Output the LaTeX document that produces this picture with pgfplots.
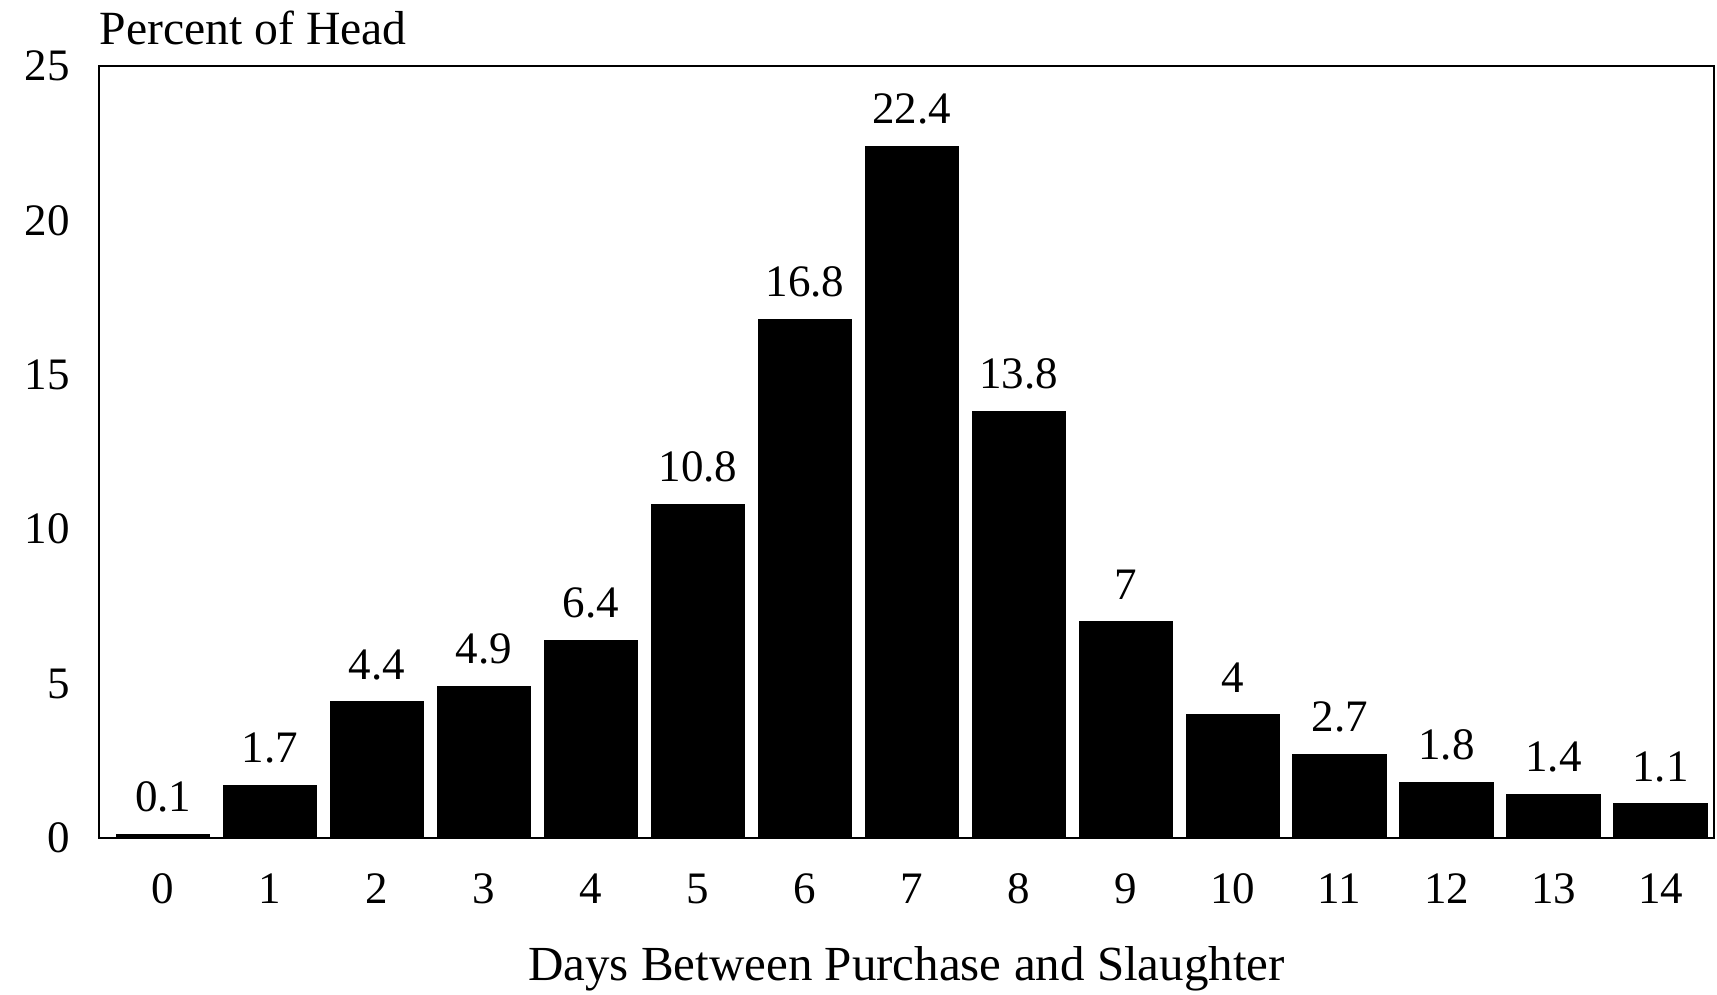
\documentclass[border=0pt]{standalone}
\usepackage{fontspec}
\setmainfont{Liberation Serif}
\usepackage{pgfplots}
\pgfplotsset{compat=1.18}
\begin{document}
\fontsize{13.5}{16}\selectfont
\begin{tikzpicture}
\begin{axis}[
  at={(0,0)}, anchor=south west,
  scale only axis,
  width=484.5pt, height=231.6pt,
  xmin=-0.6, xmax=14.5, ymin=0, ymax=25,
  xtick={0,...,14}, ytick={0,5,...,25},
  major tick length=0pt,
  axis line style={line width=0.8pt},
  /pgf/number format/assume math mode=true,
  ticklabel style={font=\fontsize{13.5}{16}\selectfont},
  xticklabel style={yshift=-6pt},
  yticklabel style={xshift=-4pt},
  xlabel={Days Between Purchase and Slaughter},
  xlabel style={font=\fontsize{14.7}{17}\selectfont, yshift=-3.5pt},
  ybar, bar width=0.87,
  nodes near coords,
  every node near coord/.append style={font=\fontsize{13.5}{16}\selectfont, yshift=2pt},
  clip=false,
]
\addplot[fill=black, draw=black] coordinates {
(0,0.1) (1,1.7) (2,4.4) (3,4.9) (4,6.4) (5,10.8) (6,16.8) (7,22.4)
(8,13.8) (9,7) (10,4) (11,2.7) (12,1.8) (13,1.4) (14,1.1)};
\node[anchor=south west, font=\fontsize{14.3}{16}\selectfont, inner sep=0pt] at (rel axis cs:0,1) [yshift=6pt] {Percent of Head};
\end{axis}
\pgfresetboundingbox
\path[use as bounding box] (-29.7pt,-46.8pt) rectangle (485.4pt,251.4pt);
\end{tikzpicture}
\end{document}
